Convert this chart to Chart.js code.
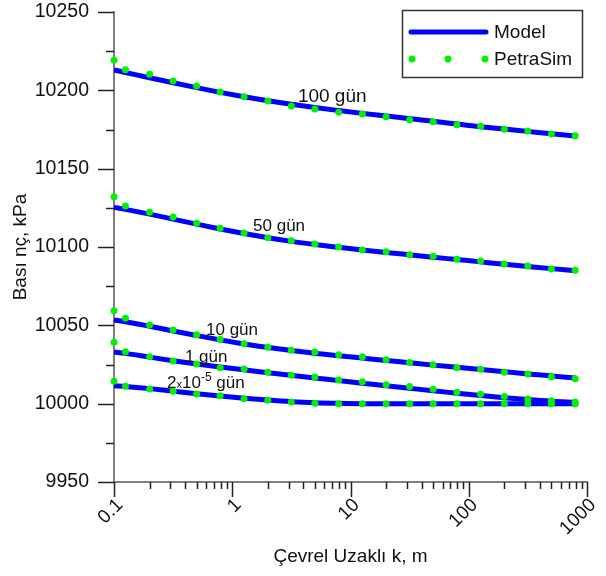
<!DOCTYPE html>
<html>
<head>
<meta charset="utf-8">
<script src="https://cdn.jsdelivr.net/npm/chart.js@4.4.1/dist/chart.umd.min.js"></script>
<style>
  html, body { margin: 0; padding: 0; background: #fff; }
  #wrap { width: 606px; height: 576px; }
</style>
</head>
<body>
<div id="wrap"><canvas id="pressureChart" width="606" height="576"></canvas></div>
<script>
// radial distance of the grid nodes, m
const distances = [0.1, 0.125, 0.2, 0.316, 0.5, 0.79, 1.26, 2, 3.16, 5, 7.94, 12.6, 20, 31.6, 50, 79.4, 126, 200, 316, 500, 794];

// analytical model, kPa
const model100 = [10213.0, 10211.4, 10208.0, 10204.8, 10201.7, 10198.7, 10195.9, 10193.4, 10191.1, 10189.0, 10187.1, 10185.3, 10183.6, 10181.9, 10180.2, 10178.5, 10176.8, 10175.3, 10173.8, 10172.3, 10170.9];
const model50 = [10125.3, 10124.0, 10121.0, 10117.8, 10114.6, 10111.5, 10108.6, 10105.9, 10103.6, 10101.6, 10099.8, 10098.1, 10096.5, 10095.0, 10093.5, 10092.0, 10090.5, 10089.0, 10087.6, 10086.2, 10084.9];
const model10 = [10053.4, 10052.3, 10049.4, 10046.4, 10043.5, 10040.7, 10038.1, 10035.8, 10033.9, 10032.2, 10030.6, 10029.1, 10027.6, 10026.1, 10024.6, 10023.2, 10021.8, 10020.4, 10019.0, 10017.7, 10016.4];
const model1 = [10033.0, 10032.1, 10029.7, 10027.4, 10025.3, 10023.4, 10021.6, 10019.8, 10018.1, 10016.4, 10014.7, 10013.0, 10011.4, 10009.8, 10008.2, 10006.7, 10005.2, 10003.8, 10002.6, 10001.6, 10000.9];
const modelEarly = [10011.5, 10011.0, 10009.6, 10008.0, 10006.4, 10004.9, 10003.5, 10002.3, 10001.3, 10000.6, 10000.2, 10000.0, 10000.0, 10000.0, 10000.0, 10000.0, 10000.0, 10000.0, 10000.0, 10000.0, 10000.0];

// PetraSim results, kPa
const petra100 = [10219.2, 10213.2, 10210.2, 10206.0, 10202.8, 10198.9, 10195.9, 10193.2, 10190.0, 10188.1, 10186.0, 10184.9, 10183.2, 10181.3, 10180.0, 10178.1, 10177.0, 10175.1, 10174.0, 10172.1, 10171.0];
const petra50 = [10132.1, 10126.2, 10122.2, 10119.2, 10115.1, 10111.9, 10108.9, 10105.9, 10104.0, 10101.9, 10100.0, 10098.1, 10097.0, 10095.1, 10094.1, 10092.2, 10091.1, 10089.2, 10087.9, 10086.0, 10085.1];
const petra10 = [10059.3, 10054.5, 10050.2, 10047.0, 10044.0, 10041.1, 10038.3, 10036.0, 10034.1, 10033.0, 10031.3, 10030.0, 10028.1, 10026.2, 10024.9, 10023.0, 10022.0, 10020.1, 10018.9, 10017.2, 10015.9];
const petra1 = [10039.2, 10033.2, 10030.0, 10027.2, 10025.3, 10023.0, 10022.1, 10020.0, 10018.1, 10017.0, 10015.1, 10014.0, 10012.1, 10011.0, 10009.2, 10007.3, 10006.0, 10004.5, 10003.0, 10001.9, 10001.1];
const petraEarly = [10014.3, 10011.1, 10009.4, 10007.9, 10006.2, 10005.1, 10003.2, 10002.2, 10001.1, 10000.2, 10000.0, 10000.0, 10000.0, 10000.0, 10000.0, 10000.0, 10000.0, 10000.0, 10000.0, 10000.0, 10000.0];

const xDecades = [0.1, 1, 10, 100, 1000];
const yMin = 9950, yMax = 10250, yStep = 50;

const BLUE = '#0000ff';
const GREEN = '#00f000';
const FONT = "'Liberation Sans', Arial, sans-serif";

const toPoints = ys => distances.map((x, i) => ({ x, y: ys[i] }));

const modelSet = ys => ({
  data: toPoints(ys),
  showLine: true,
  borderColor: BLUE,
  borderWidth: 5,
  pointRadius: 0,
  cubicInterpolationMode: 'monotone',
  clip: false,
  order: 2
});
const petraSet = ys => ({
  data: toPoints(ys),
  showLine: false,
  pointRadius: 3.5,
  pointBackgroundColor: GREEN,
  pointBorderWidth: 0,
  clip: false,
  order: 1
});

// tick marks (long on majors, short on minors) and the slanted x labels
const axisMarks = {
  id: 'axisMarks',
  afterDraw(chart) {
    const { ctx, chartArea, scales } = chart;
    ctx.save();
    ctx.strokeStyle = '#222';
    ctx.lineWidth = 1.5;
    ctx.beginPath();
    for (let v = yMin; v <= yMax; v += yStep / 2) {
      const py = Math.round(scales.y.getPixelForValue(v)) + 0.5;
      const len = (v - yMin) % yStep === 0 ? 16 : 8;
      ctx.moveTo(chartArea.left - len, py);
      ctx.lineTo(chartArea.left, py);
    }
    for (let d = 0; d < xDecades.length; d++) {
      const base = xDecades[d];
      const steps = d === xDecades.length - 1 ? [1] : [1, 2, 3, 4, 5, 6, 7, 8, 9];
      steps.forEach(m => {
        const px = Math.round(scales.x.getPixelForValue(base * m)) + 0.5;
        const len = m === 1 ? 15 : 7;
        ctx.moveTo(px, chartArea.bottom);
        ctx.lineTo(px, chartArea.bottom + len);
      });
    }
    ctx.stroke();

    ctx.fillStyle = '#111';
    ctx.font = `19px ${FONT}`;
    ctx.textAlign = 'right';
    ctx.textBaseline = 'middle';
    scales.x.ticks.forEach(t => {
      ctx.save();
      ctx.translate(scales.x.getPixelForValue(t.value) + 6, chartArea.bottom + 20);
      ctx.rotate(-Math.PI / 4);
      ctx.fillText(String(t.value), 0, 0);
      ctx.restore();
    });
    ctx.restore();
  }
};

// curve captions and the boxed key
const captions = {
  id: 'captions',
  afterDraw(chart) {
    const { ctx, scales } = chart;
    const X = v => scales.x.getPixelForValue(v);
    const Y = v => scales.y.getPixelForValue(v);
    ctx.save();
    ctx.fillStyle = '#111';
    ctx.textBaseline = 'alphabetic';
    ctx.textAlign = 'left';

    ctx.font = `19px ${FONT}`;
    ctx.fillText('100 gün', X(3.59), Y(10192.7));
    ctx.font = `17px ${FONT}`;
    ctx.fillText('50 gün', X(1.5), Y(10110.2));
    ctx.fillText('10 gün', X(0.6), Y(10043.8));
    ctx.fillText('1 gün', X(0.398), Y(10026.8));

    // 2x10-5 gün with small x and raised exponent
    let px = X(0.281);
    const py = Y(10009.8);
    ctx.fillText('2', px, py); px += ctx.measureText('2').width;
    ctx.font = `11px ${FONT}`;
    ctx.fillText('x', px, py); px += ctx.measureText('x').width;
    ctx.font = `17px ${FONT}`;
    ctx.fillText('10', px, py); px += ctx.measureText('10').width;
    ctx.font = `12px ${FONT}`;
    ctx.fillText('-5', px, py - 7); px += ctx.measureText('-5').width;
    ctx.font = `17px ${FONT}`;
    ctx.fillText(' gün', px, py);

    // key
    ctx.strokeStyle = '#333';
    ctx.lineWidth = 1.5;
    ctx.strokeRect(402.5, 10.5, 180, 67);
    ctx.strokeStyle = BLUE;
    ctx.lineWidth = 5;
    ctx.lineCap = 'round';
    ctx.beginPath();
    ctx.moveTo(411, 32);
    ctx.lineTo(486, 32);
    ctx.stroke();
    ctx.fillStyle = GREEN;
    [412, 448, 485].forEach(cx => {
      ctx.beginPath();
      ctx.arc(cx, 59, 3.5, 0, Math.PI * 2);
      ctx.fill();
    });
    ctx.fillStyle = '#111';
    ctx.font = `19px ${FONT}`;
    ctx.textBaseline = 'middle';
    ctx.fillText('Model', 494, 33);
    ctx.fillText('PetraSim', 494, 60);
    ctx.restore();
  }
};

new Chart(document.getElementById('pressureChart'), {
  type: 'scatter',
  data: {
    datasets: [
      modelSet(model100), modelSet(model50), modelSet(model10), modelSet(model1), modelSet(modelEarly),
      petraSet(petra100), petraSet(petra50), petraSet(petra10), petraSet(petra1), petraSet(petraEarly)
    ]
  },
  options: {
    responsive: false,
    animation: false,
    layout: { padding: { left: 0, right: 19, top: 12, bottom: 0 } },
    plugins: {
      legend: { display: false },
      tooltip: { enabled: false }
    },
    scales: {
      x: {
        type: 'logarithmic',
        min: 0.1,
        max: 1000,
        afterBuildTicks: s => { s.ticks = xDecades.map(v => ({ value: v, major: true })); },
        afterFit: s => { s.height = 94; s.paddingLeft = 0; s.paddingRight = 0; },
        grid: { display: false, drawTicks: false },
        border: { display: true, color: '#808080', width: 2 },
        ticks: { display: false },
        title: {
          display: true,
          text: 'Çevrel Uzaklı k, m',
          color: '#111',
          font: { family: FONT, size: 19 },
          padding: { top: 0, bottom: 8 }
        }
      },
      y: {
        min: yMin,
        max: yMax,
        afterFit: s => { s.width = 114; s.paddingTop = 0; s.paddingBottom = 0; },
        grid: { display: false, drawTicks: false },
        border: { display: true, color: '#808080', width: 2 },
        ticks: {
          stepSize: yStep,
          padding: 25,
          color: '#111',
          font: { family: FONT, size: 19.5 },
          callback: v => String(v)
        },
        title: {
          display: true,
          text: 'Bası nç, kPa',
          color: '#111',
          font: { family: FONT, size: 19 },
          padding: { top: 9, bottom: 0 }
        }
      }
    }
  },
  plugins: [axisMarks, captions]
});
</script>
</body>
</html>
